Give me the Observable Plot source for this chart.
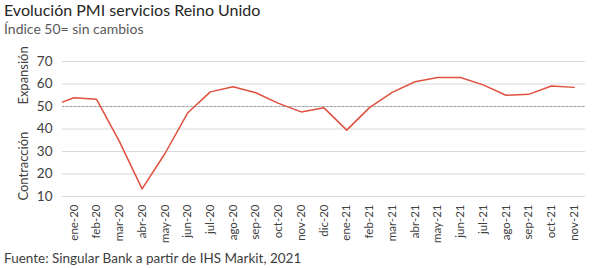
<!DOCTYPE html>
<html>
<head>
<meta charset="utf-8">
<script src="https://cdn.jsdelivr.net/npm/d3@7"></script>
<script src="https://cdn.jsdelivr.net/npm/@observablehq/plot@0.6"></script>
<style>
  html, body { margin: 0; padding: 0; background: #fff; }
  body { width: 600px; height: 268px; overflow: hidden; font-family: Lato, "Noto Sans", sans-serif; }
  #title { position: absolute; left: 4px; top: 2px; font-size: 16px; line-height: 16px; color: #262626; white-space: nowrap; }
  #subtitle { position: absolute; left: 4px; top: 21.5px; font-size: 14px; line-height: 14px; color: #595959; white-space: nowrap; }
  #chart { position: absolute; left: 0; top: 40px; }
  #caption { position: absolute; left: 4px; top: 249px; font-size: 13.5px; line-height: 18px; color: #404040; white-space: nowrap; }
</style>
</head>
<body>
<div id="title">Evolución PMI servicios Reino Unido</div>
<div id="subtitle">Índice 50= sin cambios</div>
<div id="chart"></div>
<div id="caption">Fuente: Singular Bank a partir de IHS Markit, 2021</div>
<script>
const meses = ["ene-20","feb-20","mar-20","abr-20","may-20","jun-20","jul-20","ago-20","sep-20","oct-20","nov-20","dic-20",
               "ene-21","feb-21","mar-21","abr-21","may-21","jun-21","jul-21","ago-21","sep-21","oct-21","nov-21"];
const pmi = [53.9, 53.2, 34.5, 13.4, 29.0, 47.1, 56.5, 58.8, 56.1, 51.4, 47.6, 49.4,
             39.5, 49.5, 56.3, 61.0, 62.9, 62.9, 59.6, 55.0, 55.4, 59.1, 58.5];
const valorPrevio = 50.0; // dic-19, recortado en el borde izquierdo
const ticksY = [10, 20, 30, 40, 50, 60, 70];
const referencia = 50;
const etiquetasEje = [{texto: "Expansión", y: 63.8}, {texto: "Contracción", y: 23.5}];

const serie = [{i: -1, v: valorPrevio}, ...pmi.map((v, i) => ({i, v}))];

const chart = Plot.plot({
  width: 600,
  height: 210,
  marginLeft: 62,
  marginRight: 15,
  marginTop: 21,
  marginBottom: 54,
  style: {fontFamily: "Lato, 'Noto Sans', sans-serif", color: "#404040", background: "transparent"},
  x: {type: "linear", domain: [-0.5, meses.length - 0.5]},
  y: {domain: [10, 70]},
  marks: [
    Plot.ruleY(ticksY, {stroke: "#d9d9d9", strokeWidth: 1}),
    Plot.ruleY([referencia], {stroke: "#a0a0a0", strokeWidth: 1, strokeDasharray: "2.5,1.5"}),
    Plot.line(serie, {x: "i", y: "v", stroke: "#e0503f", strokeWidth: 1.5, clip: true}),
    Plot.axisY({ticks: ticksY, tickSize: 0, tickPadding: 10, fontSize: 13.5, label: null, tickFormat: d => String(d)}),
    Plot.axisX({ticks: d3.range(meses.length), tickFormat: i => meses[i], tickRotate: -90, tickSize: 0, tickPadding: 8, fontSize: 11.5, label: null}),
    Plot.text(etiquetasEje, {text: "texto", y: "y", frameAnchor: "left", textAnchor: "middle", dx: -39, rotate: -90, fontSize: 13, fill: "#404040"})
  ]
});
document.getElementById("chart").appendChild(chart);
</script>
</body>
</html>
